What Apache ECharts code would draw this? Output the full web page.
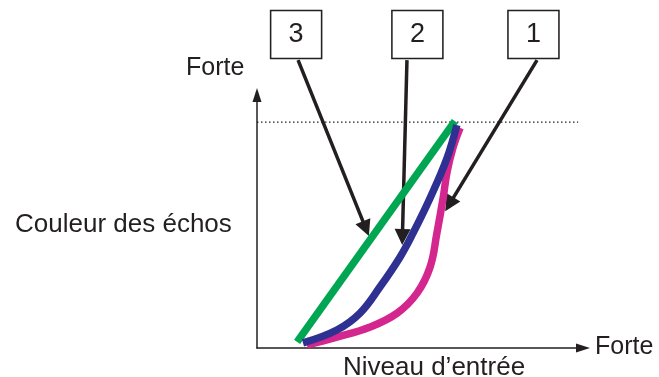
<!DOCTYPE html>
<html>
<head>
<meta charset="utf-8">
<script src="https://cdn.jsdelivr.net/npm/echarts@6/dist/echarts.min.js"></script>
<style>
  html, body { margin: 0; padding: 0; background: #fff; }
  #chart { width: 659px; height: 377px; }
</style>
</head>
<body>
<div id="chart"></div>
<script>
// Curve data (input level -> echo colour), axis units 0..100
const greenCurve = [[12.3, 2.4], [60.7, 89.7]];
const blueCurve = [
  [14.1, 2.0], [24.5, 7.1], [31.6, 13.8], [37.7, 24.1], [43.9, 36.0],
  [47.9, 45.5], [53.1, 59.3], [58.3, 75.1], [61.3, 88.1]
];
const magentaCurve = [
  [15.3, 1.2], [24.5, 4.3], [34.7, 8.3], [43.0, 13.8], [49.1, 21.7],
  [53.1, 32.0], [55.2, 45.5], [57.1, 59.3], [58.3, 69.6], [60.1, 79.1], [62.3, 87.0]
];
const maxLevel = [[0, 89.3], [98.5, 89.3]];

// Callout boxes and their pointers
const boxLabels = ['3', '2', '1'];
const boxPositions = [[12.0, 123.9], [49.2, 123.9], [84.8, 123.9]];
const pointerFrom = [[12.6, 113.8], [46.0, 113.8], [85.9, 113.8]];
const pointerTo = [[33.4, 47.2], [44.6, 43.9], [59.0, 56.8]];

const ink = '#231f20';
const font = 'Liberation Sans, Arial, sans-serif';

const chart = echarts.init(document.getElementById('chart'));

const option = {
  animation: false,
  grid: { left: 257, right: 76, top: 95, bottom: 29 },
  xAxis: {
    type: 'value', min: 0, max: 100,
    axisLine: { lineStyle: { color: ink, width: 1.5 }, symbol: ['none', 'triangle'], symbolSize: [9, 14] },
    axisTick: { show: false }, axisLabel: { show: false }, splitLine: { show: false }
  },
  yAxis: {
    type: 'value', min: 0, max: 100,
    axisLine: { show: true, lineStyle: { color: ink, width: 1.5 }, symbol: ['none', 'triangle'], symbolSize: [9, 14] },
    axisTick: { show: false }, axisLabel: { show: false }, splitLine: { show: false }
  },
  graphic: [
    { type: 'text', left: 186, top: 56, style: { text: 'Forte', font: '25px ' + font, fill: ink } },
    { type: 'text', left: 15, top: 212, style: { text: 'Couleur des échos', font: '26px ' + font, fill: ink } },
    { type: 'text', left: 343, top: 355, style: { text: 'Niveau d’entrée', font: '26px ' + font, fill: ink } },
    { type: 'text', left: 595, top: 335, style: { text: 'Forte', font: '25px ' + font, fill: ink } }
  ],
  series: [
    {
      type: 'line', data: maxLevel, symbol: 'none', silent: true, clip: false,
      lineStyle: { color: ink, width: 1.2, type: [1.5, 2.5] }
    },
    {
      type: 'line', data: greenCurve, symbol: 'none', clip: false,
      lineStyle: { color: '#00a651', width: 7.5 }
    },
    {
      type: 'line', data: magentaCurve, symbol: 'none', smooth: 0.4, clip: false,
      lineStyle: { color: '#d4268f', width: 7.5 }
    },
    {
      type: 'line', data: blueCurve, symbol: 'none', smooth: 0.4, clip: false,
      lineStyle: { color: '#2e3192', width: 7.5 }
    },
    {
      type: 'lines', coordinateSystem: 'cartesian2d', clip: false,
      symbol: ['none', 'triangle'], symbolSize: [13, 16],
      lineStyle: { color: ink, width: 3.5, opacity: 1 },
      itemStyle: { color: ink },
      data: pointerFrom.map((p, i) => ({ coords: [p, pointerTo[i]] }))
    },
    {
      type: 'scatter', clip: false, symbol: 'rect', symbolSize: [51, 48],
      itemStyle: { color: '#fff', borderColor: ink, borderWidth: 1.5, opacity: 1 },
      label: {
        show: true, position: 'inside', color: ink, fontSize: 27, fontFamily: font,
        formatter: p => boxLabels[p.dataIndex]
      },
      data: boxPositions
    }
  ]
};

chart.setOption(option);
</script>
</body>
</html>
